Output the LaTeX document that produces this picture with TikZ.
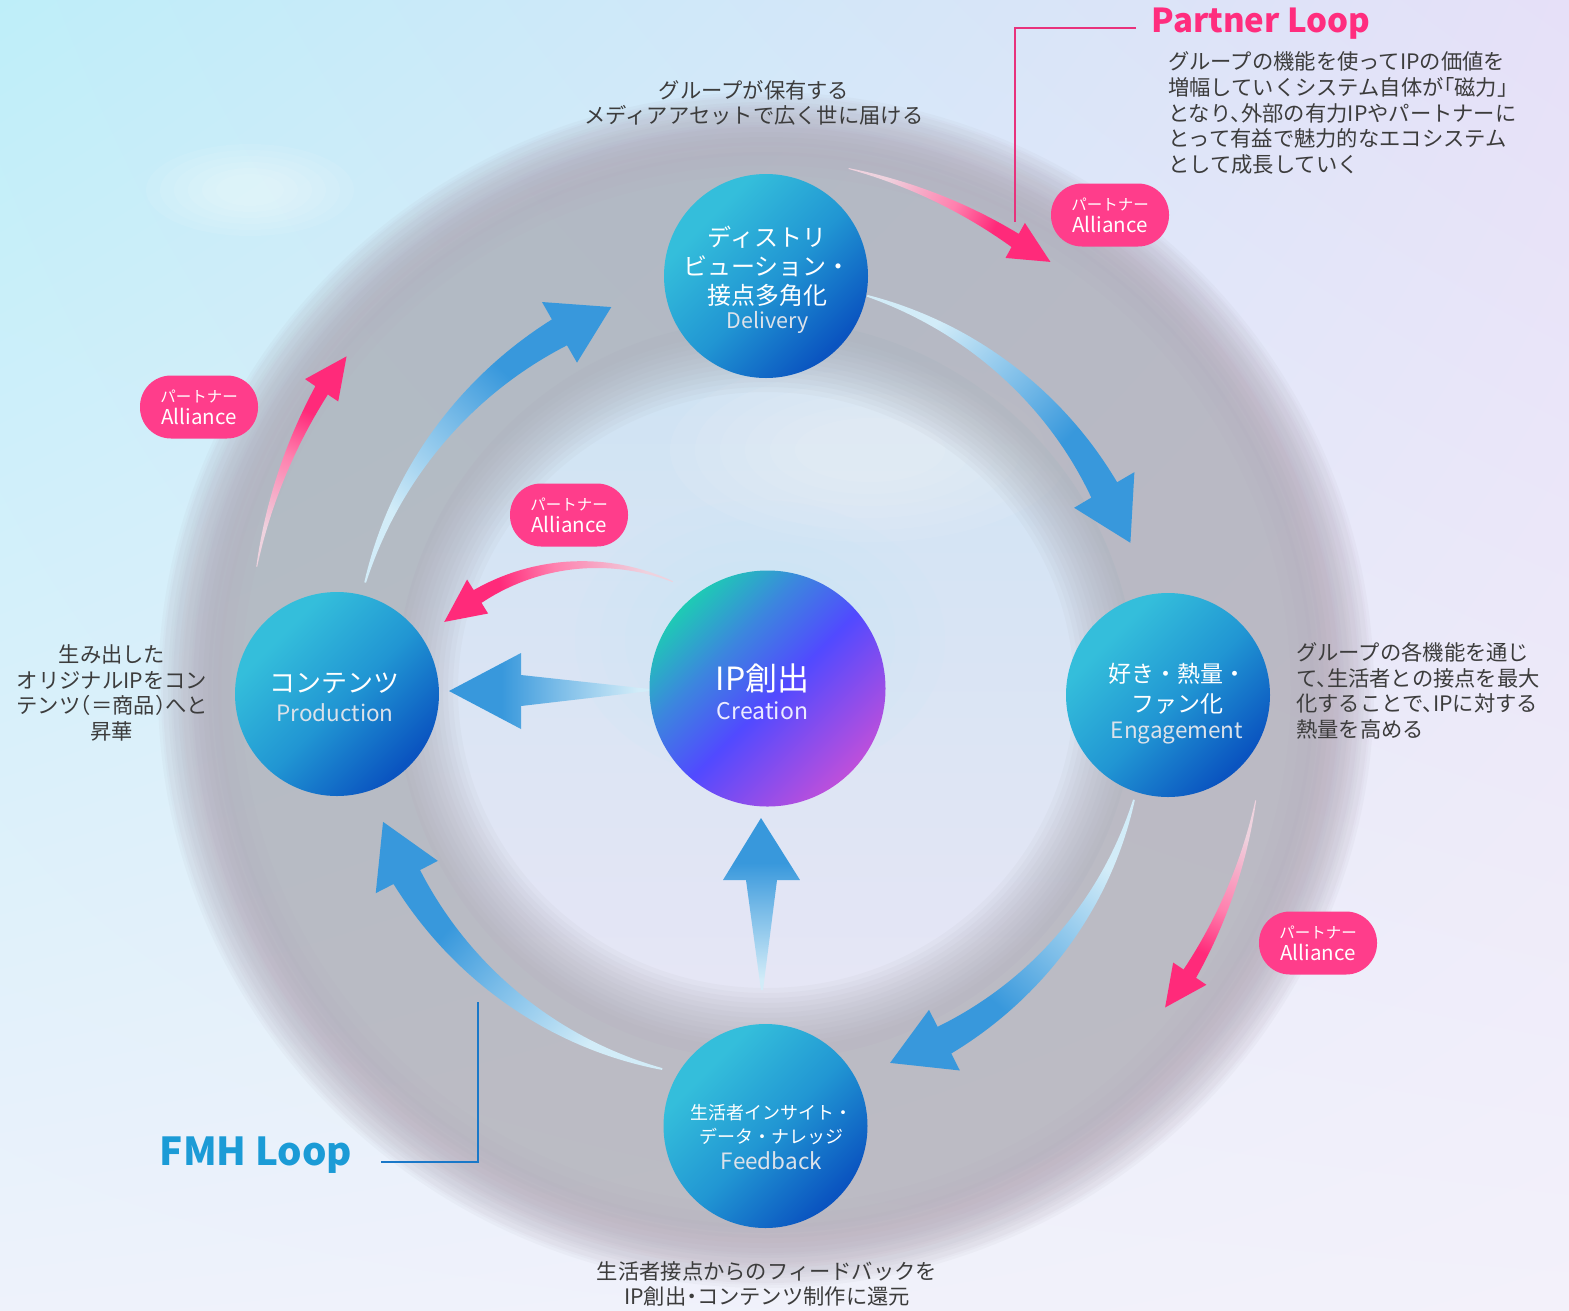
\documentclass[tikz,border=0pt]{standalone}
\usepackage{fontspec}
\setmainfont{Noto Sans CJK JP}
\newfontfamily\jph[RawFeature=+halt]{Noto Sans CJK JP}
\usetikzlibrary{calc,shadings}

\definecolor{bS}{HTML}{3898DC}
\definecolor{bM}{HTML}{7ABCE8}
\definecolor{bL}{HTML}{D2ECF8}
\definecolor{pS}{HTML}{FF2A7A}
\definecolor{pM}{HTML}{FF80AE}
\definecolor{pL}{HTML}{EED2DE}
\definecolor{cyn}{HTML}{34BEDB}
\definecolor{cmid}{HTML}{2196D3}
\definecolor{cdk}{HTML}{0A54C0}
\definecolor{crT}{HTML}{1CCFB2}
\definecolor{crB}{HTML}{3C86DE}
\definecolor{crV}{HTML}{514AFF}
\definecolor{crM}{HTML}{CC50D6}
\definecolor{badgec}{HTML}{FF3D8B}
\definecolor{txt}{HTML}{3C3C3C}
\definecolor{latc}{HTML}{DCE2EA}
\definecolor{ringc}{HTML}{A6A4AC}
\definecolor{mauve}{HTML}{B49AB4}
\definecolor{partnerc}{HTML}{FF2D7E}
\definecolor{plinec}{HTML}{E8327C}
\definecolor{fmhc}{HTML}{1B9BD6}
\definecolor{fmhline}{HTML}{1A78C8}
\definecolor{bgUL}{HTML}{BEEEF9}
\definecolor{bgUR}{HTML}{E6E0F8}
\definecolor{bgLL}{HTML}{EEF2FB}
\definecolor{bgLR}{HTML}{F3F1FA}
\definecolor{inTop}{HTML}{CDE3F3}
\definecolor{inBot}{HTML}{E8E6F5}

\pgfdeclareverticalshading{bluefade}{100bp}{color(0bp)=(bL); color(28bp)=(bL); color(48bp)=(bM); color(62bp)=(bS); color(100bp)=(bS)}
\pgfdeclareverticalshading{pinkfade}{100bp}{color(0bp)=(pL); color(28bp)=(pL); color(50bp)=(pM); color(64bp)=(pS); color(100bp)=(pS)}
\pgfdeclareverticalshading{nodegrad}{100bp}{color(0bp)=(cyn); color(30bp)=(cyn); color(52bp)=(cmid); color(74bp)=(cdk); color(100bp)=(cdk)}
\pgfdeclareverticalshading{creagrad}{100bp}{color(0bp)=(crT); color(24bp)=(crT); color(38bp)=(crB); color(52bp)=(crV); color(78bp)=(crM); color(100bp)=(crM)}

% r0 r1 a0 a1 a2 bodyhalfwidth headhalfwidth style
\newcommand\arcarrow[8]{%
\path[#8]
 plot[domain=0:1, samples=50, variable=\t] ({\cx+((#1)+((#2)-(#1))*\t+(#6)*(0.06+0.94*\t))*cos((#3)+((#4)-(#3))*\t)}, {\cy-((#1)+((#2)-(#1))*\t+(#6)*(0.06+0.94*\t))*sin((#3)+((#4)-(#3))*\t)})
 -- ({\cx+((#2)+(#7))*cos(#4)}, {\cy-((#2)+(#7))*sin(#4)})
 -- ({\cx+(#2)*cos(#5)}, {\cy-(#2)*sin(#5)})
 -- ({\cx+((#2)-(#7))*cos(#4)}, {\cy-((#2)-(#7))*sin(#4)})
 -- plot[domain=0:1, samples=50, variable=\t] ({\cx+((#2)+((#1)-(#2))*\t-(#6)*(1-0.94*\t))*cos((#4)+((#3)-(#4))*\t)}, {\cy-((#2)+((#1)-(#2))*\t-(#6)*(1-0.94*\t))*sin((#4)+((#3)-(#4))*\t)})
 -- cycle;}

\tikzset{
 bluearr/.style={shade, shading=bluefade, shading angle=#1},
 pinkarr/.style={shade, shading=pinkfade, shading angle=#1},
 stage/.style={circle, minimum size=204pt, inner sep=0pt, shade, shading=nodegrad, shading angle=-135},
 jpw/.style={text=white, align=center, inner sep=0pt},
 enw/.style={text=latc, inner sep=0pt},
 ptext/.style={font=\jph\fontsize{21.3}{25.6}\selectfont, text=txt, inner sep=0pt},
 badge/.style={rectangle, rounded corners=31pt, fill=badgec, minimum width=118pt, minimum height=63pt, inner sep=0pt, text=white, align=center, font=\fontsize{15.5}{19}\selectfont},
 pline/.style={plinec, line width=1.5pt},
 bline/.style={fmhline, line width=1.5pt}
}

\begin{document}
\begin{tikzpicture}[x=1pt, y=-1pt]
\useasboundingbox (0,0) rectangle (1569,1310);
% background
\shade[upper left=bgUL, upper right=bgUR, lower left=bgLL, lower right=bgLR] (0,0) rectangle (1569,1310);
\shade[top color=inTop, bottom color=inBot] (766,690) circle[radius=370pt];
% soft highlights
\foreach \s in {1,...,6} \fill[white, opacity=0.07] (870,450) ellipse[x radius={(50+25*\s)*1pt}, y radius={(20+12*\s)*1pt}];
\foreach \s in {1,...,6} \fill[white, opacity=0.08] (250,190) ellipse[x radius={(20+14*\s)*1pt}, y radius={(10+6*\s)*1pt}];
\foreach \s in {1,...,5} \fill[cyan!30, opacity=0.05] (760,640) ellipse[x radius={(60+25*\s)*1pt}, y radius={(40+20*\s)*1pt}];
% ring
\foreach \w in {300,290,...,180} \draw[ringc, line width=\w pt, opacity=0.075] (766,690) ellipse[x radius=458pt, y radius=448pt];
\foreach \w in {80,60,...,20} \draw[mauve, line width=\w pt, opacity=0.06] (766,690) ellipse[x radius=565pt, y radius=555pt];

% blue loop arrows
\def\cx{766}\def\cy{690}
\arcarrow{415}{413}{165}{120}{112}{15}{35}{bluearr=-42.7}
\arcarrow{407}{393}{75.6}{30.6}{22}{15}{35}{bluearr=-134.2}
\arcarrow{384}{393}{-16.6}{-63}{-71.6}{15}{34}{bluearr=136.6}
\arcarrow{393}{405}{-105.3}{-152.5}{-161}{15}{35}{bluearr=48.2}
% pink partner arrows
\arcarrow{528}{514}{81}{61}{56.4}{7.5}{20}{pinkarr=-117.4}
\arcarrow{524}{536}{166.4}{146}{141.5}{7.5}{20}{pinkarr=-24.1}
\arcarrow{502}{510}{-12.7}{-33.8}{-38.5}{7.5}{20}{pinkarr=155}
\def\cx{589.5}\def\cy{777.7}
\arcarrow{213}{213}{67}{121.7}{133}{7.5}{20}{pinkarr=99.6}

% straight arrows
\coordinate (s5t1) at (650,689); \coordinate (s5t2) at (650,691);
\coordinate (s5tip) at (449,691);
\path[bluearr=90] (s5t1) -- (521,675) -- (521,653) -- (s5tip) -- (521,729) -- (521,706) -- (s5t2) -- cycle;
\coordinate (s6t1) at (761,990); \coordinate (s6t2) at (763,990);
\coordinate (s6tip) at (761,818);
\path[bluearr=0] (s6t1) -- (746,880) -- (723,880) -- (s6tip) -- (800,880) -- (777,880) -- (s6t2) -- cycle;

% stage circles
\node[stage] (deliv) at (766,276) {};
\node[stage] (prod) at (337,694) {};
\node[stage] (engage) at (1168,695) {};
\node[stage] (feed) at (765.5,1126) {};
\node[circle, minimum size=236pt, inner sep=0pt, shade, shading=creagrad, shading angle=-135] (crea) at (767.5,688.5) {};

\node[jpw, font=\fontsize{24}{29}\selectfont] (deliv-jp) at (767,266) {ディストリ\\ビューション・\\接点多角化};
\node[enw, font=\fontsize{21.5}{24}\selectfont] (deliv-en) at (767.5,322) {Delivery};
\node[jpw, font=\fontsize{26}{30}\selectfont] (prod-jp) at (334,683) {コンテンツ};
\node[enw, font=\fontsize{22.5}{26}\selectfont] (prod-en) at (335,713) {Production};
\node[jpw, font=\fontsize{23}{30}\selectfont] (engage-jp) at (1177,689) {好き・熱量・\\ファン化};
\node[enw, font=\fontsize{22.5}{26}\selectfont] (engage-en) at (1177,733) {Engagement};
\node[jpw, font=\fontsize{18}{24}\selectfont] (feed-jp) at (771,1125) {生活者インサイト・\\データ・ナレッジ};
\node[enw, font=\fontsize{22.5}{26}\selectfont] (feed-en) at (771.5,1161) {Feedback};
\node[jpw, font=\fontsize{32}{36}\selectfont] (crea-jp) at (762.5,678) {IP創出};
\node[jpw, text=white!92!blue, font=\fontsize{23}{26}\selectfont] (crea-en) at (762.5,711) {Creation};

% badges
\node[badge] (b1) at (1110,215) {パートナー\\[3pt]\fontsize{20.5}{22}\selectfont Alliance};
\node[badge] (b2) at (199,407) {パートナー\\[3pt]\fontsize{20.5}{22}\selectfont Alliance};
\node[badge] (b3) at (569,515) {パートナー\\[3pt]\fontsize{20.5}{22}\selectfont Alliance};
\node[badge] (b4) at (1318,943) {パートナー\\[3pt]\fontsize{20.5}{22}\selectfont Alliance};

% titles and leader lines
\node[font=\bfseries\fontsize{33}{38}\selectfont, text=partnerc, inner sep=0pt] (ptitle) at (1261,24) {Partner Loop};
\coordinate (pl1) at (1136,28); \coordinate (pl2) at (1015,28); \coordinate (pl3) at (1015,222);
\draw[pline] (pl1) -- (pl2) -- (pl3);
\node[font=\bfseries\fontsize{38.5}{44}\selectfont, text=fmhc, inner sep=0pt] (ftitle) at (256,1155) {FMH Loop};
\coordinate (fl1) at (381,1162); \coordinate (fl2) at (478,1162); \coordinate (fl3) at (478,1002);
\draw[bline] (fl1) -- (fl2) -- (fl3);

% descriptions
\node[ptext, align=left, anchor=west] (ptxt) at (1168,113) {グループの機能を使ってIPの価値を\\増幅していくシステム自体が「磁力」\\となり、外部の有力IPやパートナーに\\とって有益で魅力的なエコシステム\\として成長していく};
\node[ptext, align=center] (ttop) at (754,103) {グループが保有する\\メディアアセットで広く世に届ける};
\node[ptext, align=center] (tleft) at (112,693) {生み出した\\オリジナルIPをコン\\テンツ（＝商品）へと\\昇華};
\node[ptext, align=left, anchor=west] (tright) at (1296,691) {グループの各機能を通じ\\て、生活者との接点を最大\\化することで、IPに対する\\熱量を高める};
\node[ptext, align=center] (tbottom) at (767,1284) {生活者接点からのフィードバックを\\IP創出・コンテンツ制作に還元};
\end{tikzpicture}
\end{document}
